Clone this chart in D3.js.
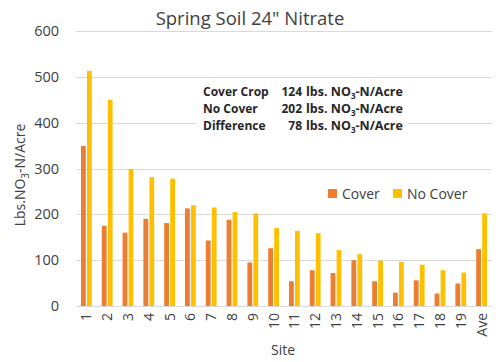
<!DOCTYPE html>
<html>
<head>
<meta charset="utf-8">
<script src="https://cdn.jsdelivr.net/npm/d3@7"></script>
<style>
  body { margin: 0; background: #fff; }
  text { font-family: 'Open Sans', sans-serif; }
</style>
</head>
<body>
<script>
const sites = ['1','2','3','4','5','6','7','8','9','10','11','12','13','14','15','16','17','18','19','Ave']
const cover = [349, 175, 160, 190, 181, 213, 143, 188, 95, 126, 54, 78, 72, 100, 54, 29, 56, 27, 49, 124]
const noCover = [513, 450, 299, 281, 278, 220, 215, 205, 202, 170, 164, 159, 122, 113, 99, 96, 90, 78, 73, 202]
const yTicks = [0, 100, 200, 300, 400, 500, 600]
const seriesNames = ['Cover', 'No Cover']
const summary = [
  { label: 'Cover Crop', value: '124' },
  { label: 'No Cover', value: '202' },
  { label: 'Difference', value: '78' }
]

const width = 500
const height = 362
const plot = { left: 76, right: 492, top: 31, bottom: 306 }
const colors = ['#ED7D31', '#FFC000']
const grid = '#D9D9D9'
const ink = '#404040'

const x = d3.scaleBand()
  .domain(sites)
  .range([plot.left, plot.right])

const y = d3.scaleLinear()
  .domain([0, 600])
  .range([plot.bottom, plot.top])

const svg = d3.select('body')
  .append('svg')
    .attr('width', width)
    .attr('height', height)

// gridlines
svg.append('g')
  .selectAll('line')
  .data(yTicks)
  .join('line')
    .attr('x1', plot.left)
    .attr('x2', plot.right)
    .attr('y1', (d) => Math.round(y(d)) + 0.5)
    .attr('y2', (d) => Math.round(y(d)) + 0.5)
    .attr('stroke', grid)
    .attr('stroke-width', 1)

// white box behind the summary text
svg.append('rect')
  .attr('x', 197)
  .attr('y', 81)
  .attr('width', 211)
  .attr('height', 55)
  .attr('fill', '#fff')

// bars
const barW = 4.8
const gap = 0.6
const series = [cover, noCover]
series.forEach((vals, si) => {
  svg.append('g')
    .selectAll('rect')
    .data(vals)
    .join('rect')
      .attr('x', (d, i) => {
        const c = x(sites[i]) + x.bandwidth() / 2
        return si === 0 ? c - gap - barW : c + gap
      })
      .attr('y', (d) => y(d))
      .attr('width', barW)
      .attr('height', (d) => y(0) - y(d))
      .attr('fill', colors[si])
})

// y axis labels
svg.append('g')
  .selectAll('text')
  .data(yTicks)
  .join('text')
    .attr('x', 59)
    .attr('y', (d) => y(d) + 5)
    .attr('text-anchor', 'end')
    .attr('font-size', 14.5)
    .attr('fill', ink)
    .text((d) => d)

// x axis labels (rotated)
svg.append('g')
  .selectAll('text')
  .data(sites)
  .join('text')
    .attr('transform', (d) => 'translate(' + (x(d) + x.bandwidth() / 2 + 5) + ',' + 313 + ')rotate(-90)')
    .attr('text-anchor', 'end')
    .attr('font-size', 14)
    .attr('fill', ink)
    .text((d) => d)

// title
svg.append('text')
  .attr('x', 250)
  .attr('y', 25)
  .attr('text-anchor', 'middle')
  .attr('font-size', 18.5)
  .attr('fill', ink)
  .text('Spring Soil 24" Nitrate')

// axis titles
svg.append('text')
  .attr('x', 283)
  .attr('y', 355)
  .attr('text-anchor', 'middle')
  .attr('font-size', 14)
  .attr('fill', ink)
  .text('Site')

const yTitle = svg.append('text')
  .attr('transform', 'translate(25,175)rotate(-90)')
  .attr('text-anchor', 'middle')
  .attr('font-size', 14)
  .attr('fill', ink)
yTitle.append('tspan').text('Lbs.NO')
yTitle.append('tspan').attr('font-size', 10).attr('dy', 4).text('3')
yTitle.append('tspan').attr('dy', -4).text('-N/Acre')

// legend
const legend = svg.append('g')
  .attr('transform', 'translate(328,189)')
seriesNames.forEach((name, i) => {
  const off = i === 0 ? 0 : 65
  legend.append('rect')
    .attr('x', off)
    .attr('y', 0)
    .attr('width', 9)
    .attr('height', 9)
    .attr('fill', colors[i])
  legend.append('text')
    .attr('x', off + 14)
    .attr('y', 9.5)
    .attr('font-size', 14)
    .attr('fill', ink)
    .text(name)
})

// summary annotation
const note = svg.append('g')
  .attr('font-weight', 'bold')
  .attr('font-size', 12)
  .attr('fill', '#262626')
summary.forEach((row, i) => {
  const by = 96 + i * 17
  note.append('text')
    .attr('x', 203)
    .attr('y', by)
    .text(row.label)
  note.append('text')
    .attr('x', 302)
    .attr('y', by)
    .attr('text-anchor', 'end')
    .text(row.value)
  const t = note.append('text')
    .attr('x', 306)
    .attr('y', by)
    .attr('font-size', 12.5)
  t.append('tspan').text('lbs. NO')
  t.append('tspan').attr('font-size', 8).attr('dy', 3).text('3')
  t.append('tspan').attr('dy', -3).text('-N/Acre')
})
</script>
</body>
</html>
